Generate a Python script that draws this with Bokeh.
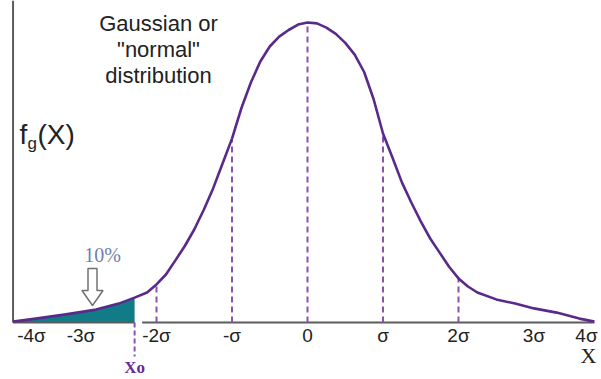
from bokeh.plotting import figure
from bokeh.models import Range1d, ColumnDataSource, Label
from bokeh.embed import file_html
from bokeh.resources import INLINE
from bokeh.core.properties import value
import numpy as np

# ---- data (x in sigma units, y relative to the peak) ----
curve_x = [-3.9, -3.6, -3.2, -2.8, -2.5, -2.29, -2.125, -2.0, -1.875, -1.75, -1.625,
           -1.5, -1.375, -1.25, -1.125, -1.0, -0.875, -0.75, -0.625, -0.5, -0.375,
           -0.25, -0.125, 0.0, 0.125, 0.25, 0.375, 0.5, 0.625, 0.75, 0.875, 1.0,
           1.125, 1.25, 1.375, 1.5, 1.625, 1.75, 1.875, 2.0, 2.125, 2.25, 2.5, 2.75,
           3.0, 3.3, 3.6, 3.8]
curve_y = [0.003, 0.013, 0.027, 0.043, 0.063, 0.083, 0.1, 0.127, 0.16, 0.207, 0.255,
           0.31, 0.375, 0.447, 0.53, 0.613, 0.715, 0.8, 0.87, 0.92, 0.953,
           0.975, 0.993, 1.0, 0.997, 0.983, 0.962, 0.932, 0.893, 0.835, 0.745, 0.63,
           0.55, 0.467, 0.4, 0.337, 0.28, 0.233, 0.186, 0.147, 0.12, 0.1, 0.077, 0.063,
           0.047, 0.033, 0.013, 0.003]
sigma_marks = [-2, -1, 0, 1, 2]
mark_heights = [0.13, 0.61, 1.0, 0.62, 0.15]
tick_values = [-4, -3, -2, -1, 0, 1, 2, 3, 4]
tick_labels = ["-4σ", "-3σ", "-2σ", "-σ", "0", "σ", "2σ", "3σ", "4σ"]
x_o = -2.29
tail_label = "10%"
title_lines = ["Gaussian or", "\"normal\"", "distribution"]

# ---- layout ----
W, H = 601, 379
PX_PER_SIGMA = 75.5
PX_PER_UNIT = 300.0
X0_PX = 307      # x=0 inside the figure
Y0_PX = 322      # baseline inside the figure
x_start = -X0_PX / PX_PER_SIGMA
x_end = (W - X0_PX) / PX_PER_SIGMA
y_start = -(H - Y0_PX) / PX_PER_UNIT
y_end = Y0_PX / PX_PER_UNIT


def fx(px):  # pixel -> data x
    return (px - X0_PX) / PX_PER_SIGMA


def fy(py):  # pixel -> data y
    return (Y0_PX - py) / PX_PER_UNIT


CURVE = "#5a2a8a"
DASH = "#8a52ad"
TEAL = "#127b88"
AXIS = "#5c5c5c"
TEXT = "#222222"
SANS = "Liberation Sans"
SERIF = "Liberation Serif"

p = figure(width=W, height=H, output_backend="svg", toolbar_location=None,
           x_range=Range1d(x_start, x_end), y_range=Range1d(y_start, y_end),
           min_border=0, min_border_left=0, min_border_right=0,
           min_border_top=0, min_border_bottom=0)
p.axis.visible = False
p.grid.visible = False
p.outline_line_color = None
p.background_fill_color = "white"
p.border_fill_color = "white"

cx = np.array(curve_x)
cy = np.array(curve_y)

# teal tail area up to x_o
mask = cx <= x_o + 1e-9
p.varea(x=cx[mask], y1=np.zeros(mask.sum()), y2=cy[mask], fill_color=TEAL)

# left axis and baseline
p.segment(x0=[curve_x[0]], y0=[0], x1=[curve_x[0]], y1=[y_end], line_color=AXIS, line_width=2)
p.segment(x0=[curve_x[0], x_o + 0.1], y0=[0, 0], x1=[x_o, curve_x[-1]], y1=[0, 0],
          line_color=AXIS, line_width=2)

# sigma markers
p.segment(x0=sigma_marks, y0=[0] * len(sigma_marks), x1=sigma_marks, y1=mark_heights,
          line_color=DASH, line_width=2, line_dash="6 4")
# x_o marker below the axis
p.segment(x0=[x_o], y0=[0], x1=[x_o], y1=[fy(356)], line_color=DASH, line_width=2,
          line_dash="5 3")

# the curve
p.line(cx, cy, line_color=CURVE, line_width=2.6, line_join="round")

# tick labels
lab_x = np.clip(np.array(tick_values, dtype=float), fx(31), fx(586))
src = ColumnDataSource(dict(x=lab_x, y=[0] * len(tick_labels), t=tick_labels))
p.text(x="x", y="y", text="t", source=src, text_align="center", text_baseline="middle",
       y_offset=13, text_font=value(SANS), text_font_size="19px", text_color=TEXT)

# axis name
p.add_layout(Label(x=fx(588), y=fy(355), text="X", text_align="center",
                   text_baseline="middle", text_font=SERIF, text_font_size="22px",
                   text_color=TEXT))

# x_o label
p.add_layout(Label(x=x_o, y=fy(367), text="Xo", text_align="center",
                   text_baseline="middle", text_font=SERIF, text_font_size="17px",
                   text_font_style="bold", text_color="#6a2a96"))

# y label f_g(X)
p.add_layout(Label(x=fx(19), y=fy(134), text="f", text_align="left",
                   text_baseline="alphabetic", text_font=SANS, text_font_size="28px",
                   text_color=TEXT))
p.add_layout(Label(x=fx(27), y=fy(143), text="g", text_align="left",
                   text_baseline="alphabetic", text_font=SANS, text_font_size="17px",
                   text_color=TEXT))
p.add_layout(Label(x=fx(37), y=fy(134), text="(X)", text_align="left",
                   text_baseline="alphabetic", text_font=SANS, text_font_size="28px",
                   text_color=TEXT))

# title lines
for i, line in enumerate(title_lines):
    p.add_layout(Label(x=fx(158), y=fy(23 + 26 * i), text=line, text_align="center",
                       text_baseline="middle", text_font=SANS, text_font_size="22px",
                       text_color=TEXT))

# 10% label and hollow arrow
p.add_layout(Label(x=fx(102), y=fy(254), text=tail_label, text_align="center",
                   text_baseline="middle", text_font=SERIF, text_font_size="20px",
                   text_color="#6f7fae"))
tip_px, tip_py = 92, 305
arrow_px = [tip_px - 4.5, tip_px + 4.5, tip_px + 4.5, tip_px + 10.5, tip_px,
            tip_px - 10.5, tip_px - 4.5]
arrow_py = [268, 268, 290, 290, tip_py, 290, 290]
p.patch([fx(a) for a in arrow_px], [fy(b) for b in arrow_py], fill_color="white",
        line_color="#707070", line_width=1.5)

open("out.html", "w").write(file_html(p, INLINE))
